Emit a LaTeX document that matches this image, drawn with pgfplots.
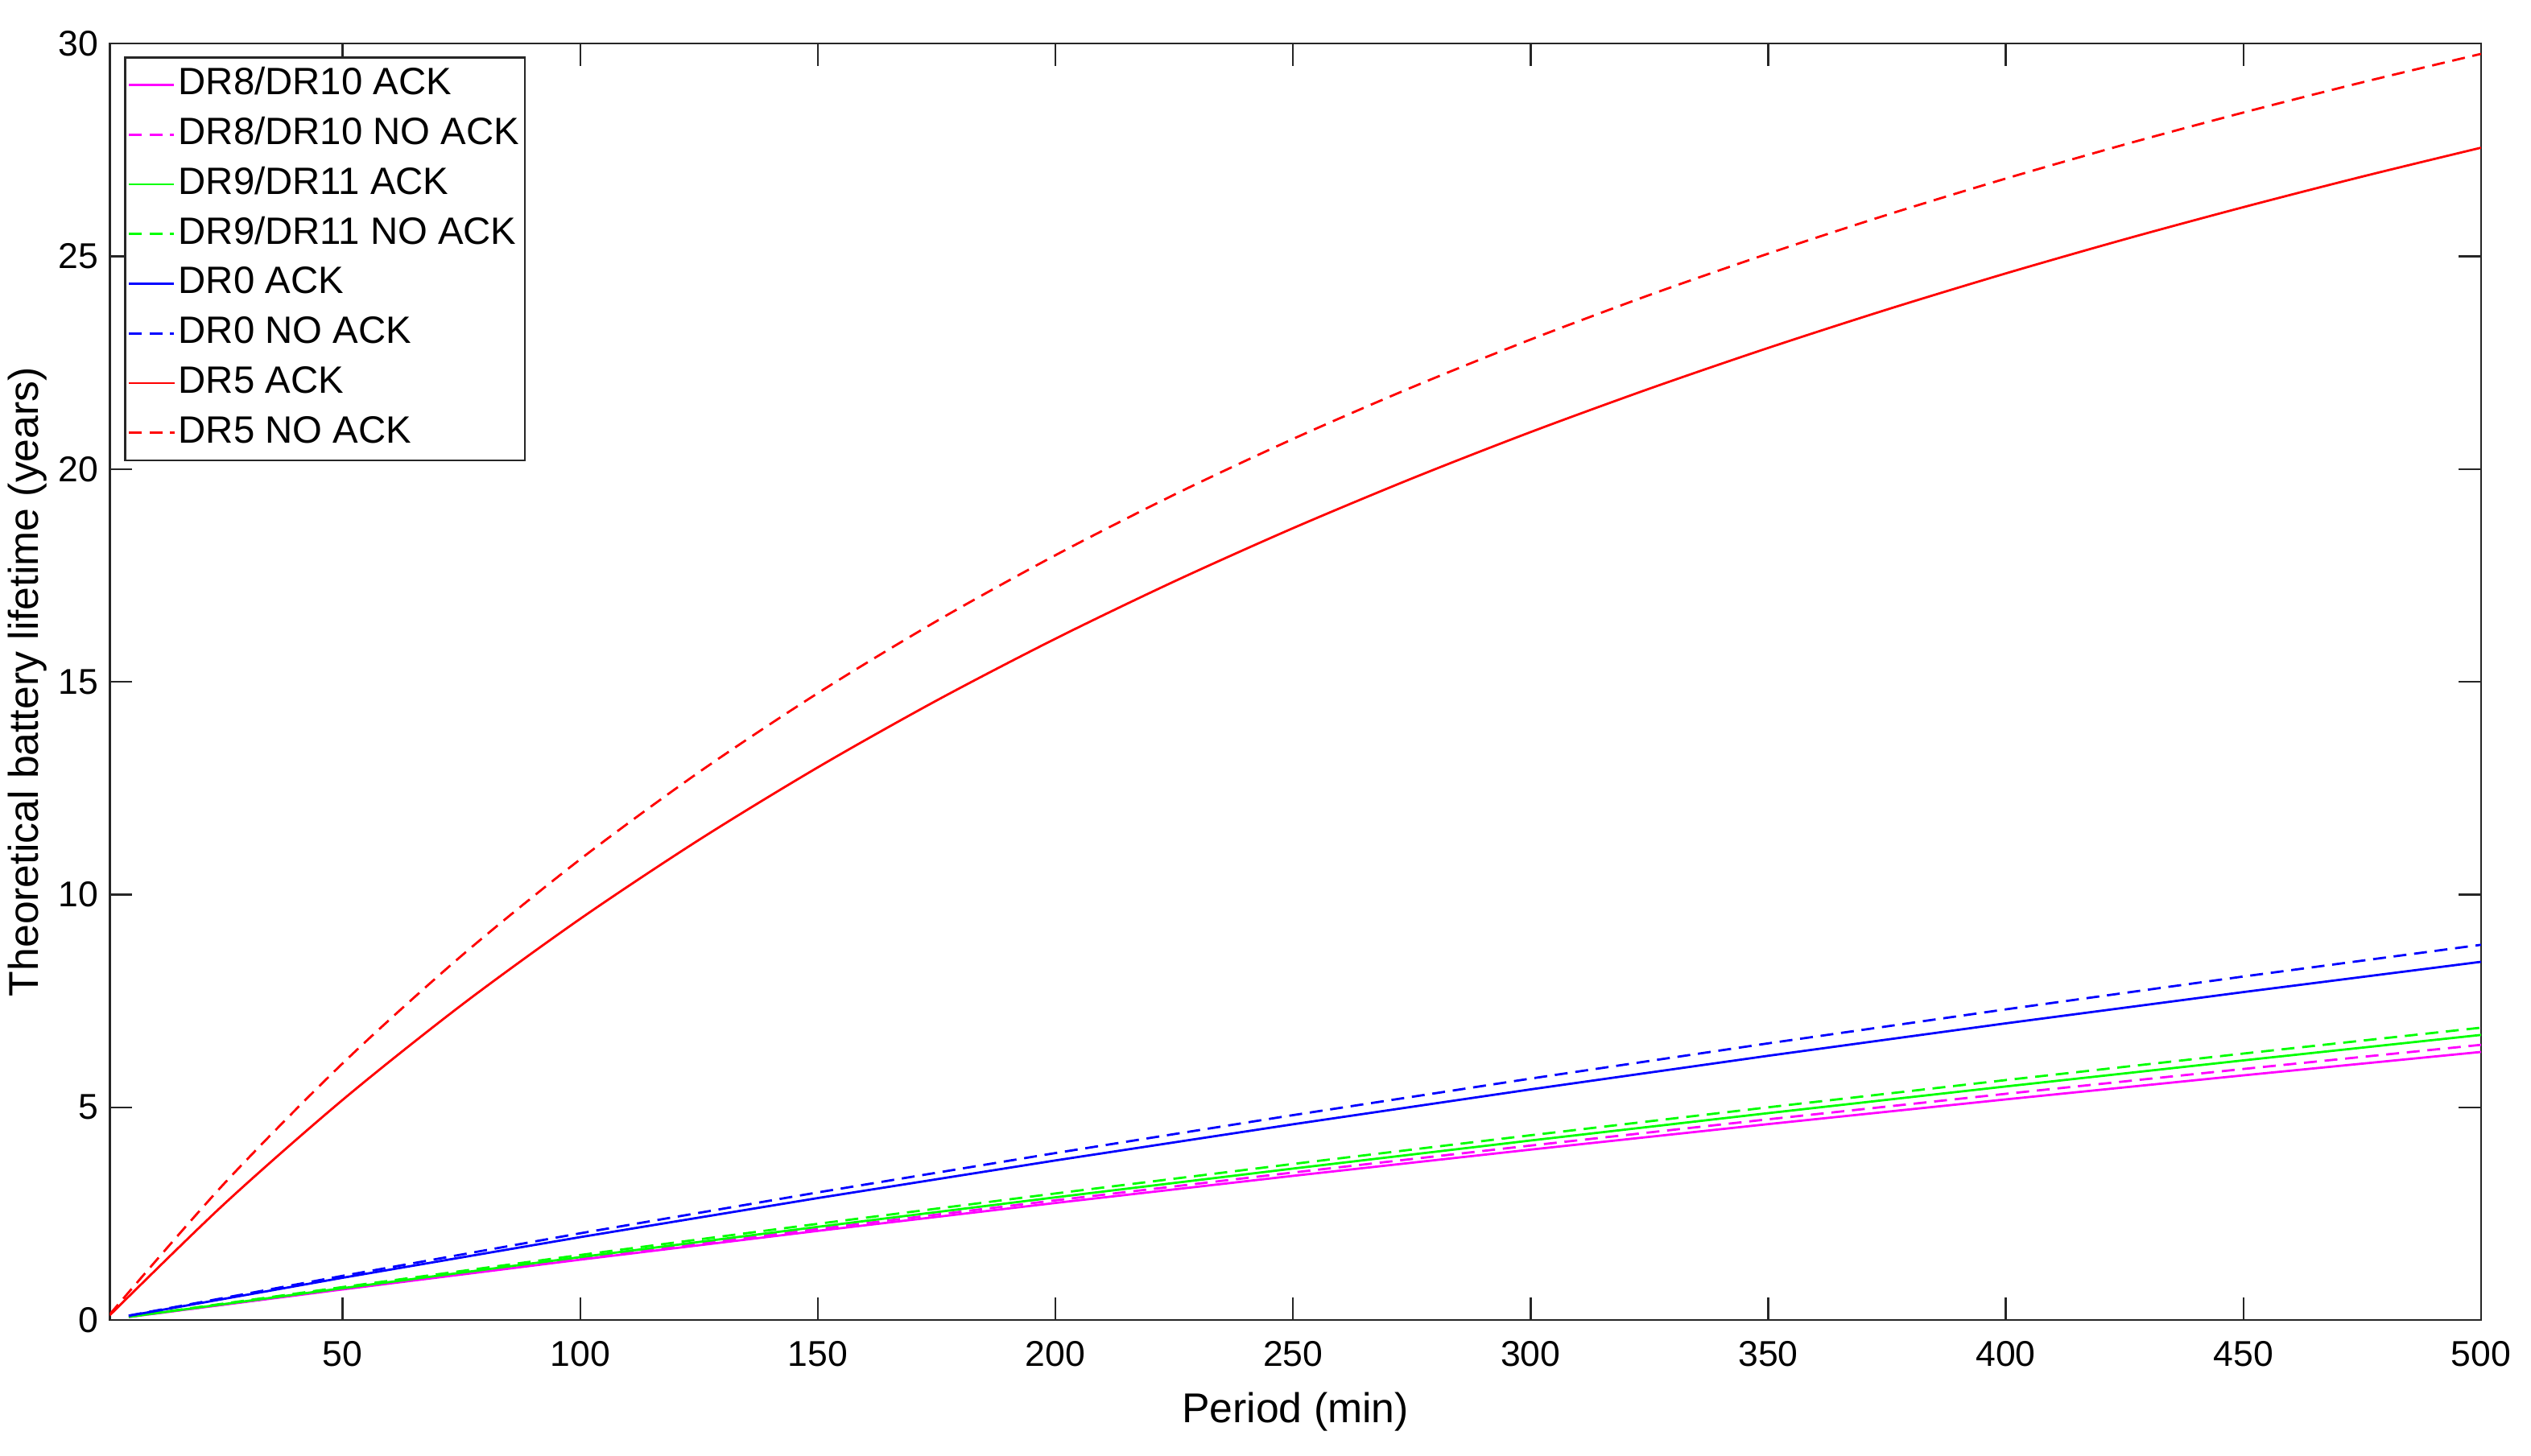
\documentclass[border=0pt]{standalone}
\usepackage{fontspec}
\setmainfont{Liberation Sans}
\usepackage{pgfplots}
\pgfplotsset{compat=1.18}

\definecolor{axgray}{rgb}{0.15,0.15,0.15}
\definecolor{mMag}{rgb}{1,0,1}
\definecolor{mGreen}{rgb}{0,1,0}
\definecolor{mBlue}{rgb}{0,0,1}
\definecolor{mRed}{rgb}{1,0,0}

\begin{document}
\begin{tikzpicture}
\begin{axis}[
  scale only axis,
  width=734.5pt, height=395.5pt,
  xmin=1, xmax=500, ymin=0, ymax=30,
  xtick={50,100,...,500},
  ytick={0,5,...,30},
  tick align=inside,
  major tick length=7pt,
  axis line style={axgray, line width=0.6pt},
  every tick/.style={axgray, line width=0.6pt},
  /pgf/number format/assume math mode=true,
  tick label style={font=\fontsize{11.1}{13}\selectfont, text=black},
  xticklabel style={yshift=-3pt},
  label style={font=\fontsize{12.9}{15}\selectfont},
  xlabel={Period (min)},
  ylabel={Theoretical battery lifetime (years)},
  xlabel style={at={(axis description cs:0.5,-0.072)}, anchor=center},
  ylabel style={at={(axis description cs:-0.0347,0.5)}, anchor=center, rotate=0},
  legend cell align=left,
  legend style={
    at={(axis description cs:0.0061,0.9899)}, anchor=north west,
    draw=axgray, line width=0.6pt,
    font=\fontsize{11.8}{14}\selectfont,
    inner sep=0.8pt,
    nodes={text height=8.6pt, text depth=2.4pt, inner ysep=2.2pt, inner xsep=1pt},
  },
  legend image code/.code={\draw[#1] plot coordinates {(0pt,0pt) (14pt,0pt)};},
  every axis plot/.append style={line width=0.7pt},
  dashed/.style={dash pattern=on 4pt off 2.4pt},
]
% DR8/DR10 ACK
\addplot[mMag] coordinates {(5,0.073) (50,0.722) (100,1.420) (150,2.097) (200,2.753) (250,3.390) (300,4.007) (350,4.606) (400,5.187) (450,5.752) (500,6.302)};
% DR8/DR10 NO ACK
\addplot[mMag, dashed] coordinates {(5,0.075) (50,0.736) (100,1.450) (150,2.143) (200,2.815) (250,3.468) (300,4.102) (350,4.719) (400,5.318) (450,5.902) (500,6.469)};
% DR9/DR11 ACK
\addplot[mGreen] coordinates {(5,0.076) (50,0.750) (100,1.480) (150,2.192) (200,2.885) (250,3.561) (300,4.221) (350,4.864) (400,5.491) (450,6.104) (500,6.702)};
% DR9/DR11 NO ACK
\addplot[mGreen, dashed] coordinates {(5,0.079) (50,0.776) (100,1.530) (150,2.263) (200,2.976) (250,3.670) (300,4.344) (350,5.001) (400,5.641) (450,6.264) (500,6.872)};
% DR0 ACK
\addplot[mBlue] coordinates {(5,0.101) (50,0.995) (100,1.950) (150,2.868) (200,3.752) (250,4.602) (300,5.422) (350,6.212) (400,6.974) (450,7.709) (500,8.420)};
% DR0 NO ACK
\addplot[mBlue, dashed] coordinates {(5,0.106) (50,1.040) (100,2.040) (150,3.001) (200,3.926) (250,4.817) (300,5.676) (350,6.504) (400,7.303) (450,8.075) (500,8.820)};
% DR5 ACK
\addplot[mRed, smooth] coordinates {(1,0.114) (25,2.720) (50,5.175) (75,7.402) (100,9.430) (125,11.286) (150,12.990) (175,14.561) (200,16.013) (225,17.359) (250,18.611) (275,19.778) (300,20.869) (325,21.889) (350,22.847) (375,23.749) (400,24.598) (425,25.399) (450,26.155) (475,26.873) (500,27.552)};
% DR5 NO ACK
\addplot[mRed, dashed, smooth] coordinates {(1,0.136) (25,3.199) (50,6.033) (75,8.560) (100,10.829) (125,12.877) (150,14.734) (175,16.427) (200,17.975) (225,19.398) (250,20.708) (275,21.920) (300,23.044) (325,24.090) (350,25.063) (375,25.974) (400,26.827) (425,27.627) (450,28.379) (475,29.088) (500,29.757)};
\legend{DR8/DR10 ACK, DR8/DR10 NO ACK, DR9/DR11 ACK, DR9/DR11 NO ACK, DR0 ACK, DR0 NO ACK, DR5 ACK, DR5 NO ACK}
\end{axis}
\pgfresetboundingbox
\path ([shift={(-34pt,-42pt)}]current axis.south west) rectangle ([shift={(15.5pt,13.5pt)}]current axis.north east);
\end{tikzpicture}
\end{document}
